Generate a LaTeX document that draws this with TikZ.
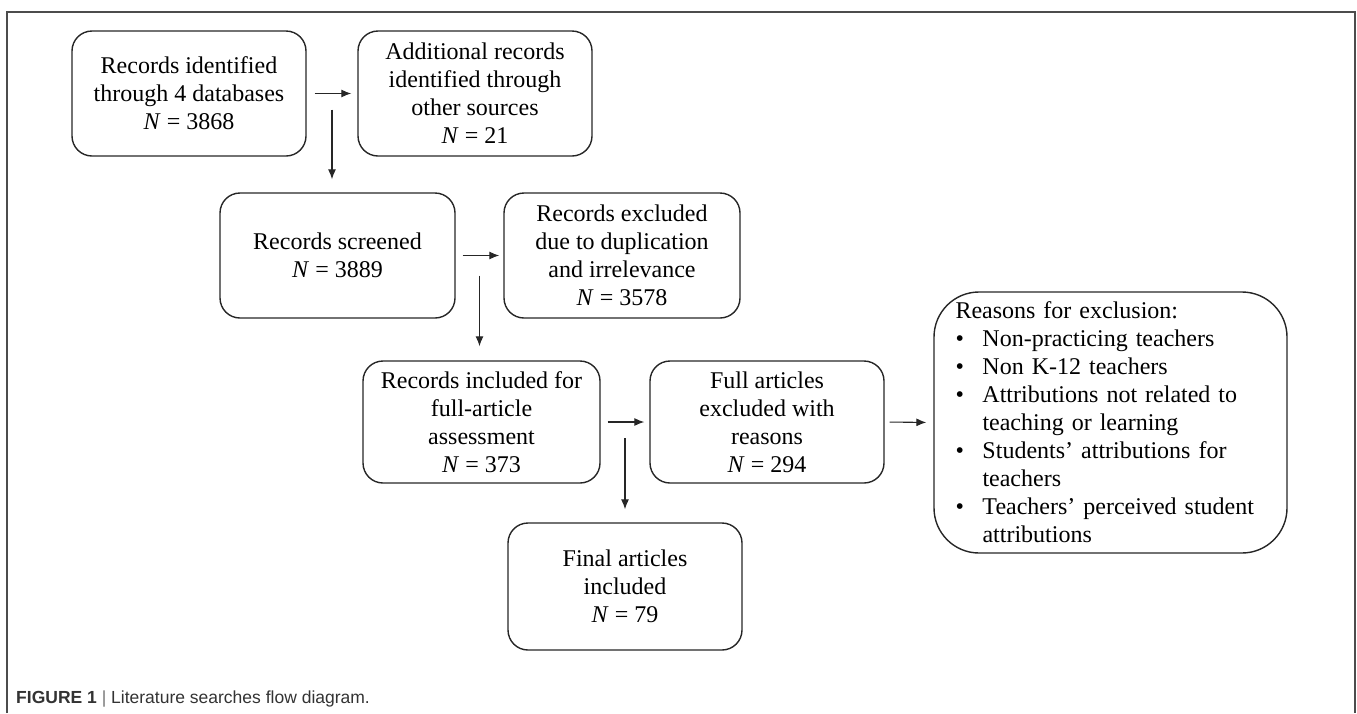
\documentclass[tikz,border=0pt]{standalone}
\usepackage{fontspec}
\setmainfont{Liberation Serif}
\newfontfamily\capfont{Liberation Sans}
\usetikzlibrary{calc}
\usetikzlibrary{arrows.meta}
\tikzset{
    recbox/.style={draw=black!85, line width=1.4pt, rounded corners=20pt, align=center, inner sep=0pt, font=\fontsize{24}{28}\selectfont},
    flow/.style={-{Latex[length=10pt,width=8pt]}, line width=1.1pt, draw=black!85}
}
\newcommand\rbullet{\makebox[27pt][l]{\textbullet}}
\newcommand\rindent{\hspace*{27pt}}

\begin{document}
\begin{tikzpicture}[x=1pt,y=-1pt]
\useasboundingbox (0,0) rectangle (1357,713);
\draw[black!70, line width=1.5pt] (7,713) -- (7,12) -- (1355,12) -- (1355,713);
% boxes
\node[recbox, minimum width=234, minimum height=125] (db) at (189,93.5) {Records identified\\ through 4 databases\\ \textit{N} = 3868};
\node[recbox, minimum width=234, minimum height=125] (other) at (475,93.5) {Additional records\\ identified through\\ other sources\\ \textit{N} = 21};
\node[recbox, minimum width=235, minimum height=125] (screened) at (337.5,255.5) {Records screened\\ \textit{N} = 3889};
\node[recbox, minimum width=236, minimum height=125] (dupl) at (622,255.5) {Records excluded\\ due to duplication\\ and irrelevance\\ \textit{N} = 3578};
\node[recbox, minimum width=237, minimum height=122] (fullin) at (481.5,422) {Records included for\\ full-article\\ assessment\\ \textit{N} = 373};
\node[recbox, minimum width=234, minimum height=122] (fullex) at (767,422) {Full articles\\ excluded with\\ reasons\\ \textit{N} = 294};
\node[recbox, minimum width=234, minimum height=127] (final) at (625,586.5) {Final articles\\ included\\ \textit{N} = 79};
\node[recbox, rounded corners=45pt, minimum width=353, minimum height=261, text width=310, align=left] (reasons) at (1110.5,422.5) {Reasons for exclusion:\\
\rbullet Non-practicing teachers\\
\rbullet Non K-12 teachers\\
\rbullet Attributions not related to\\
\rindent teaching or learning\\
\rbullet Students' attributions for\\
\rindent teachers\\
\rbullet Teachers' perceived student\\
\rindent attributions};
% arrows
\coordinate (s1) at ($(db.east)!.5!(other.west)+(0,16)$);
\coordinate (s2) at ($(screened.east)!.5!(dupl.west)+(0,20)$);
\coordinate (s3) at ($(fullin.east)!.5!(fullex.west)+(0,16)$);
\draw[flow, shorten <=8pt, shorten >=6pt] (db.east) -- (other.west);
\draw[flow, shorten >=13pt] (s1) -- (s1 |- screened.north);
\draw[flow, shorten <=7pt, shorten >=4pt] (screened.east) -- (dupl.west);
\draw[flow, shorten >=14pt] (s2) -- (s2 |- fullin.north);
\draw[flow, shorten <=7pt, shorten >=5pt] (fullin.east) -- (fullex.west);
\draw[flow, shorten >=13pt] (s3) -- (s3 |- final.north);
\draw[flow, shorten <=5pt, shorten >=7pt] (fullex.east) -- (reasons.west);
% caption
\node[anchor=base west, inner sep=0pt, font=\capfont\fontsize{17.5}{20}\selectfont, text=black!80] (cap) at (16,703) {\textbf{FIGURE 1} {\color{black!55}|} Literature searches flow diagram.};
\end{tikzpicture}
\end{document}
